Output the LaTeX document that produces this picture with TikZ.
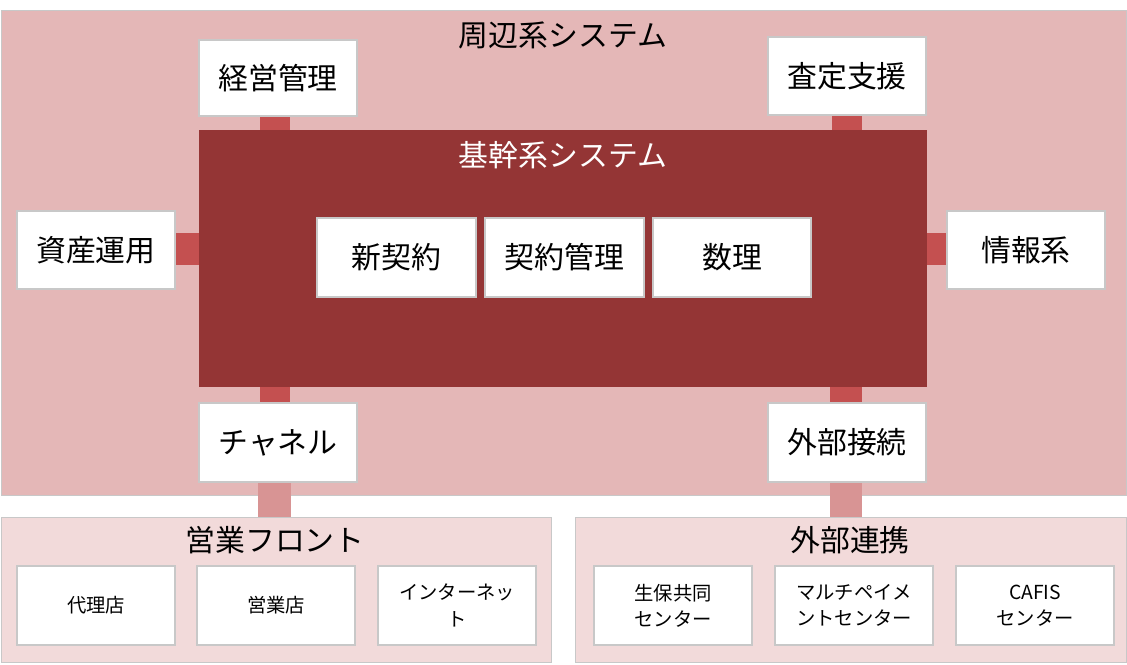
\documentclass[tikz,border=0pt]{standalone}
\usepackage{fontspec}
\setmainfont{Noto Sans CJK JP}
\definecolor{outerpink}{HTML}{E4B7B7}
\definecolor{corered}{HTML}{943535}
\definecolor{linkred}{HTML}{C45050}
\definecolor{linkpink}{HTML}{D89494}
\definecolor{lowpink}{HTML}{F2DADA}
\definecolor{edgegray}{HTML}{C8C8C8}
\begin{document}
\begin{tikzpicture}[x=0.02cm,y=-0.02cm,
    sysbox/.style={draw=edgegray,line width=0.8pt,fill=white},
    bigtext/.style={font=\fontsize{17}{20}\selectfont},
    smalltext/.style={font=\fontsize{11}{15}\selectfont,align=center}]
  \useasboundingbox (0,0) rectangle (1127,664);
  % outer and lower areas
  \fill[outerpink,draw=edgegray] (1,10) rectangle (1126,495);
  \fill[lowpink,draw=edgegray] (1,517) rectangle (551,662);
  \fill[lowpink,draw=edgegray] (575,517) rectangle (1126,662);
  % connectors
  \fill[linkred] (260,116) rectangle (290,131);
  \fill[linkred] (832,115) rectangle (862,131);
  \fill[linkred] (175,233) rectangle (200,265);
  \fill[linkred] (926,233) rectangle (947,265);
  \fill[linkred] (260,386) rectangle (290,403);
  \fill[linkred] (830,386) rectangle (862,403);
  \fill[linkpink] (258,482) rectangle (291,517);
  \fill[linkpink] (830,482) rectangle (862,517);
  % core
  \fill[corered] (199,130) rectangle (927,387);
  % titles
  \node[bigtext] (outer) at (563,35) {周辺系システム};
  \node[bigtext,text=white] (core) at (563,155) {基幹系システム};
  \node[bigtext] (front) at (275,540) {営業フロント};
  \node[bigtext] (ext) at (850,540) {外部連携};
  % boxes
  \foreach \x/\y/\xx/\yy/\t in {199/40/357/116/経営管理, 768/37/926/115/査定支援,
      17/211/175/289/資産運用, 947/211/1105/289/情報系,
      317/218/476/297/新契約, 485/218/644/297/契約管理, 653/218/811/297/数理,
      199/403/357/482/チャネル, 768/403/926/482/外部接続}
    \draw[sysbox] (\x,\y) rectangle (\xx,\yy)
      node[bigtext,midway] {\t};
  \foreach \x/\t in {17/代理店, 197/営業店, 378/{インターネッ\\ト},
      594/{生保共同\\センター}, 775/{マルチペイメ\\ントセンター}, 956/{CAFIS\\センター}}
    \draw[sysbox] (\x,566) rectangle ++(158,79)
      node[smalltext,midway] {\t};
\end{tikzpicture}
\end{document}
